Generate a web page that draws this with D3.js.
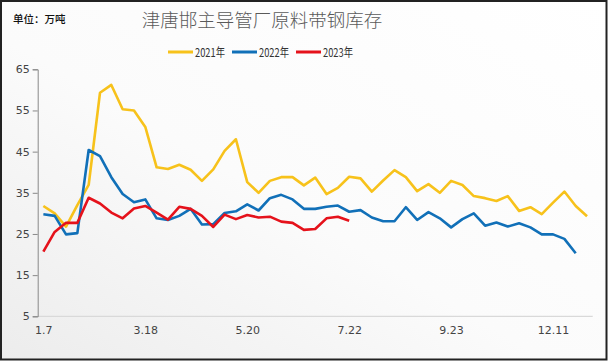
<!DOCTYPE html>
<html lang="zh">
<head>
    <meta charset="utf-8">
    <title>津唐邯主导管厂原料带钢库存</title>
    <style>
        body { margin: 0; }
        .tick text { font: 11px "DejaVu Sans", sans-serif; fill: #444; }
        .line { fill: none; stroke-width: 2.6px; stroke-linejoin: round; }
    </style>
</head>
<body>
<script src="https://cdn.jsdelivr.net/npm/d3@7/dist/d3.min.js"></script>
<script>

    var dates = ["1.7", "1.14", "1.21", "1.28", "2.4", "2.18", "2.25", "3.4", "3.11", "3.18",
        "3.25", "4.1", "4.8", "4.15", "4.22", "4.29", "5.6", "5.13", "5.20",
        "5.27", "6.3", "6.10", "6.17", "6.24", "7.1", "7.8", "7.15", "7.22",
        "7.29", "8.5", "8.12", "8.19", "8.26", "9.2", "9.9", "9.16", "9.23",
        "10.14", "10.21", "10.28", "11.4", "11.11", "11.18", "11.25", "12.2", "12.11",
        "12.18", "12.25", "12.30"];

    var s2021 = [31.8, 30.0, 26.8, 32.0, 36.9, 59.3, 61.2, 55.3, 55.0, 51.0,
        41.2, 40.8, 41.8, 40.6, 37.9, 40.7, 45.2, 48.0, 37.6, 35.0,
        37.9, 38.8, 38.8, 36.8, 38.7, 34.7, 36.2, 38.9, 38.5, 35.3,
        38.0, 40.5, 38.8, 35.4, 37.1, 35.0, 37.9, 36.9, 34.2, 33.7,
        33.0, 34.2, 30.6, 31.5, 29.8, 32.6, 35.3, 31.8, 29.3];

    var s2022 = [29.8, 29.4, 24.9, 25.2, 45.4, 43.9, 38.8, 34.7, 32.7, 33.4,
        28.8, 28.4, 29.4, 31.1, 27.3, 27.4, 30.1, 30.5, 32.2, 30.7,
        33.7, 34.5, 33.4, 31.1, 31.1, 31.6, 31.9, 30.4, 30.8, 29.0,
        28.1, 28.1, 31.5, 28.4, 30.3, 28.8, 26.6, 28.6, 30.0, 27.0,
        27.8, 26.8, 27.6, 26.6, 24.9, 24.9, 23.8, 20.3];

    var s2023 = [20.7, 25.5, 27.7, 27.7, 33.8, 32.4, 30.2, 28.8, 31.2, 31.8,
        30.2, 28.5, 31.6, 31.1, 29.4, 26.7, 29.7, 28.6, 29.6, 29.0,
        29.2, 28.0, 27.7, 26.0, 26.2, 28.8, 29.2, 28.2];

    var seriesNames = ["2021年", "2022年", "2023年"];
    var seriesColors = ["#F7C21B", "#1170B8", "#E5121B"];
    var yTicks = [5, 15, 25, 35, 45, 55, 65];
    var xTickLabels = ["1.7", "3.18", "5.20", "7.22", "9.23", "12.11"];

    var width = 608,
        height = 361;

    var svg = d3.select("body").append("svg")
        .attr("width", width)
        .attr("height", height);

    var defs = svg.append("defs");
    var grad = defs.append("linearGradient")
        .attr("id", "bg")
        .attr("x1", "100%").attr("y1", "0%")
        .attr("x2", "0%").attr("y2", "100%");
    grad.append("stop").attr("offset", "0%").attr("stop-color", "#ffffff");
    grad.append("stop").attr("offset", "55%").attr("stop-color", "#fbfbfb");
    grad.append("stop").attr("offset", "100%").attr("stop-color", "#ececec");

    svg.append("rect")
        .attr("x", 1).attr("y", 1)
        .attr("width", width - 2.5)
        .attr("height", height - 2.5)
        .attr("fill", "url(#bg)")
        .attr("stroke", "#222")
        .attr("stroke-width", 2);

    // titles
    svg.append("text")
        .attr("x", 262)
        .attr("y", 27)
        .attr("text-anchor", "middle")
        .style("font", "300 18.5px 'Noto Sans CJK SC', sans-serif")
        .style("fill", "#5a5a5a")
        .text("津唐邯主导管厂原料带钢库存");

    svg.append("text")
        .attr("x", 13)
        .attr("y", 23)
        .style("font", "500 10.5px 'Noto Sans CJK SC', sans-serif")
        .style("fill", "#111")
        .text("单位：万吨");

    // legend
    var legend = svg.selectAll(".legend")
        .data(seriesNames)
        .enter()
        .append("g")
        .attr("class", "legend")
        .attr("transform", function (d, i) {
            return "translate(" + (168 + i * 64) + ",52)";
        });
    legend.append("line")
        .attr("x1", 0).attr("x2", 25)
        .attr("y1", 0).attr("y2", 0)
        .attr("stroke", function (d, i) { return seriesColors[i]; })
        .attr("stroke-width", 3);
    legend.append("text")
        .attr("x", 27)
        .attr("y", 4.5)
        .attr("textLength", 30)
        .attr("lengthAdjust", "spacingAndGlyphs")
        .style("font", "12px 'Noto Sans CJK SC', sans-serif")
        .style("fill", "#333")
        .text(function (d) { return d; });

    // scales
    var x = d3.scalePoint()
        .domain(dates)
        .range([37.7, 592.7])
        .padding(0.5);

    var y = d3.scaleLinear()
        .domain([5, 65])
        .range([316.3, 69.3]);

    var xAxis = svg.append("g")
        .attr("transform", "translate(0,316.3)")
        .call(d3.axisBottom(x).tickValues(xTickLabels).tickSize(0).tickPadding(10));
    xAxis.select(".domain").remove();
    xAxis.append("line")
        .attr("x1", 37.7).attr("x2", 592.7)
        .attr("y1", 0).attr("y2", 0)
        .attr("stroke", "#d9d9d9")
        .attr("stroke-width", 1.3);

    var yAxis = svg.append("g")
        .attr("transform", "translate(37.7,0)")
        .call(d3.axisLeft(y).tickValues(yTicks).tickSize(5).tickPadding(3));
    yAxis.select(".domain").attr("stroke", "#888");
    yAxis.selectAll(".tick line").attr("stroke", "#888");

    var lineGen = d3.line()
        .x(function (d, i) { return x(dates[i]); })
        .y(function (d) { return y(d); });

    var allSeries = [s2021, s2022, s2023];
    for (var i = 0; i < allSeries.length; i++) {
        svg.append("path")
            .attr("class", "line")
            .attr("d", lineGen(allSeries[i]))
            .attr("stroke", seriesColors[i]);
    }

</script>
</body>
</html>
